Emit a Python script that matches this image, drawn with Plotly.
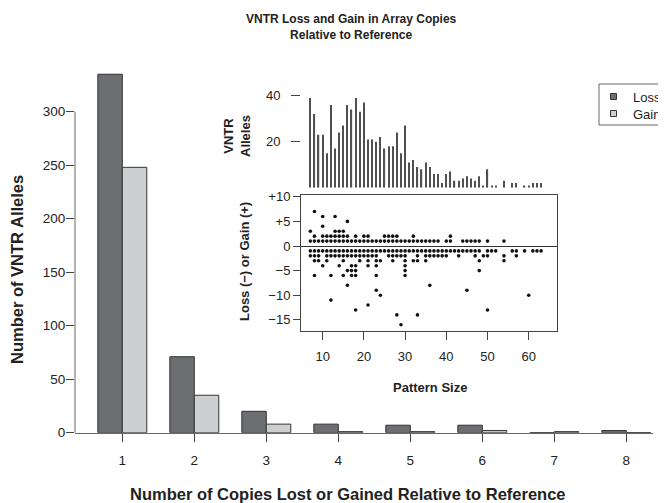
import plotly.graph_objects as go

# The page body keeps a default 8px margin, so the figure is 8px smaller and all
# pixel positions below are given in window coordinates and shifted by 8.
OFF = 8
W, H = 666 - OFF, 503 - OFF
def px(x): return (x - OFF) / W
def py(y): return 1 - (y - OFF) / H

FONT = "Liberation Sans, Arial, Helvetica, sans-serif"
TXT = "#222222"

# ---- main bar chart data ----
copies = [1, 2, 3, 4, 5, 6, 7, 8]
loss_counts = [335, 71, 20, 8, 7, 7, 0, 2]
gain_counts = [248, 35, 8, 1, 1, 2, 1, 0]
main_yticks = [0, 50, 100, 150, 200, 250, 300]
legend_labels = ["Loss", "Gain"]

# ---- inset histogram: VNTR alleles per pattern size ----
hist_sizes = [7, 8, 9, 10, 11, 12, 13, 14, 15, 16, 17, 18, 19, 20, 21, 22, 23, 24, 25,
              26, 27, 28, 29, 30, 31, 32, 33, 34, 35, 36, 37, 38, 39, 40, 41, 42, 43,
              44, 45, 46, 47, 48, 49, 50, 51, 52, 54, 56, 57, 59, 60, 61, 62, 63]
hist_counts = [39, 32, 23, 23, 15, 36, 17, 24, 27, 36, 34, 39, 33, 37, 21, 21, 20, 22, 17,
               18, 18, 24, 15, 27, 11, 12, 9, 8, 11, 9, 6, 6, 2, 6, 7, 3, 3,
               4, 5, 4, 3, 5, 1, 8, 1, 1, 3, 2, 2, 1, 1, 2, 2, 2]

# ---- inset scatter: pattern sizes observed at each copy change ----
sizes_plus7 = [8]
sizes_plus6 = [10, 13]
sizes_plus5 = [16]
sizes_plus4 = [10]
sizes_plus3 = [7, 13, 14, 15]
sizes_plus2 = [8, 10, 11, 12, 13, 14, 15, 16, 18, 20, 21, 25, 26, 27, 28, 32, 41]
sizes_plus1 = [7, 8, 9, 10, 11, 12, 13, 14, 15, 16, 17, 18, 19, 20, 21, 22, 23, 24, 25,
               26, 27, 28, 29, 30, 31, 32, 33, 34, 35, 36, 37, 38, 40, 41, 44, 45, 46,
               47, 48, 50, 54]
sizes_minus1 = [7, 8, 9, 10, 11, 12, 13, 14, 15, 16, 17, 18, 19, 20, 21, 22, 23, 24, 25,
                26, 27, 28, 29, 30, 31, 32, 33, 34, 35, 36, 37, 38, 39, 40, 41, 42, 43,
                44, 45, 46, 47, 48, 50, 51, 52, 56, 57, 59, 61, 62, 63]
sizes_minus2 = [7, 8, 9, 11, 12, 13, 14, 15, 16, 17, 18, 19, 20, 21, 22, 23, 26, 27, 28,
                29, 30, 33, 35, 36, 37, 38, 39, 40, 43, 47, 49, 50, 54, 57]
sizes_minus3 = [8, 9, 11, 15, 19, 21, 23, 24, 27, 30, 32, 33, 35, 48, 54]
sizes_minus4 = [10, 14, 17, 18, 21, 23, 30]
sizes_minus5 = [16, 17, 18, 30, 48]
sizes_minus6 = [8, 12, 15, 17, 18, 23, 30]
sizes_minus8 = [16, 36]
sizes_minus9 = [23, 45]
sizes_minus10 = [24, 60]
sizes_minus11 = [12]
sizes_minus12 = [21]
sizes_minus13 = [18, 50]
sizes_minus14 = [28, 33]
sizes_minus16 = [29]

rows = [(7, sizes_plus7), (6, sizes_plus6), (5, sizes_plus5), (4, sizes_plus4),
        (3, sizes_plus3), (2, sizes_plus2), (1, sizes_plus1), (-1, sizes_minus1),
        (-2, sizes_minus2), (-3, sizes_minus3), (-4, sizes_minus4), (-5, sizes_minus5),
        (-6, sizes_minus6), (-8, sizes_minus8), (-9, sizes_minus9), (-10, sizes_minus10),
        (-11, sizes_minus11), (-12, sizes_minus12), (-13, sizes_minus13),
        (-14, sizes_minus14), (-16, sizes_minus16)]
sc_x, sc_y = [], []
for change, sizes in rows:
    for s in sizes:
        sc_x.append(s)
        sc_y.append(change)

inset_xticks = [10, 20, 30, 40, 50, 60]
inset_yticks = [-15, -10, -5, 0, 5, 10]
inset_yticktext = ["\u221215", "\u221210", "\u22125", "0", "+5", "+10"]

LOSS_COL = "#6d6e72"
GAIN_COL = "#cdcecf"
EDGE = "#333333"
TICKFS = 13

fig = go.Figure()
fig.add_trace(go.Bar(x=copies, y=loss_counts, name="Loss", marker=dict(color=LOSS_COL, line=dict(color=EDGE, width=1)),
                     xaxis="x", yaxis="y", showlegend=False, cliponaxis=False))
fig.add_trace(go.Bar(x=copies, y=gain_counts, name="Gain", marker=dict(color=GAIN_COL, line=dict(color=EDGE, width=1)),
                     xaxis="x", yaxis="y", showlegend=False, cliponaxis=False))
fig.add_trace(go.Bar(x=hist_sizes, y=hist_counts, width=0.3, marker=dict(color="#505050", line=dict(width=0)),
                     xaxis="x2", yaxis="y2", showlegend=False))
fig.add_trace(go.Scatter(x=sc_x, y=sc_y, mode="markers", marker=dict(color="#111111", size=3.6),
                         xaxis="x3", yaxis="y3", showlegend=False, cliponaxis=True))

# geometry (window pixels)
MX0, MX1 = 75, 653
M0PX, MPPU = 432.7, 1.07           # y pixel of 0, pixels per unit
CAT1, CATW = 122.3, 72.0
main_xr = [1 - (CAT1 - MX0) / CATW, 1 + (MX1 - CAT1) / CATW]
main_ytop = 340
IX0, IX1 = 301, 557
P10, PPU = 322.7, 4.12
inset_xr = [10 - (P10 - IX0) / PPU, 10 + (IX1 - P10) / PPU]
SC_TOP, SC_BOT, SC0, SCPU = 195, 330.7, 246, 4.92
sc_yr = [-(SC_BOT - SC0) / SCPU, (SC0 - SC_TOP) / SCPU]
H_BOT, H_TOP = 187.7, 95.7

def axc(size=TICKFS, **kw):
    d = dict(showgrid=False, zeroline=False, tickfont=dict(family=FONT, size=size, color=TXT),
             tickcolor="#444", ticks="outside")
    d.update(kw)
    return d

fig.update_layout(
    width=W, height=H, margin=dict(l=0, r=0, t=0, b=0, autoexpand=False),
    paper_bgcolor="white", plot_bgcolor="rgba(0,0,0,0)",
    barmode="group", bargap=0.32, bargroupgap=0, showlegend=False,
    font=dict(family=FONT, color=TXT, size=12),
    xaxis=axc(size=13.5, domain=[px(MX0), px(MX1)], range=main_xr, tickvals=copies, ticklen=8,
              showline=True, linecolor="#666", linewidth=1, anchor="y", ticklabelstandoff=7),
    yaxis=axc(size=13.5, domain=[py(M0PX), py(M0PX - main_ytop * MPPU)], range=[0, main_ytop],
              tickvals=main_yticks, ticklen=8, showline=False, anchor="x", ticklabelstandoff=-2),
    xaxis2=dict(domain=[px(IX0), px(IX1)], range=inset_xr, visible=False, anchor="y2"),
    yaxis2=axc(domain=[py(H_BOT), py(H_TOP)], range=[0, 40], tickvals=[20, 40], ticklen=9,
               showline=False, anchor="x2", ticklabelstandoff=8),
    xaxis3=axc(domain=[px(IX0), px(IX1)], range=inset_xr, tickvals=inset_xticks, ticklen=8,
               showline=True, mirror=True, linecolor="#444", linewidth=1, anchor="y3", ticklabelstandoff=6),
    yaxis3=axc(domain=[py(SC_BOT), py(SC_TOP)], range=sc_yr, tickvals=inset_yticks, ticktext=inset_yticktext,
               ticklen=7, showline=True, mirror=True, linecolor="#444", linewidth=1, anchor="x3",
               zeroline=True, zerolinecolor="#333", zerolinewidth=1),
)

# main y axis line from 0 to 300 (R style)
fig.add_shape(type="line", xref="paper", yref="y", x0=px(MX0), x1=px(MX0), y0=0, y1=300,
              line=dict(color="#666", width=1))

# legend (box runs off the right edge, as in the reference)
fig.add_shape(type="rect", xref="paper", yref="paper", x0=px(599), x1=px(700), y0=py(125), y1=py(84),
              line=dict(color="#666", width=1), fillcolor="white")
for i, (lab, col) in enumerate(zip(legend_labels, [LOSS_COL, GAIN_COL])):
    cy = 96.5 + i * 17
    fig.add_shape(type="rect", xref="paper", yref="paper", x0=px(610.5), x1=px(616.5),
                  y0=py(cy + 3), y1=py(cy - 3), line=dict(color=EDGE, width=1), fillcolor=col)
    fig.add_annotation(text=lab, x=px(631), y=py(cy + 1), xref="paper", yref="paper", showarrow=False,
                       xanchor="left", yanchor="middle", font=dict(family=FONT, size=13, color=TXT))

def ann(text, x, y, size=12, angle=0, bold=True):
    fig.add_annotation(text=f"<b>{text}</b>" if bold else text, x=px(x), y=py(y), xref="paper", yref="paper",
                       showarrow=False, xanchor="center", yanchor="middle", textangle=angle,
                       font=dict(family=FONT, size=size, color=TXT))

ann("VNTR Loss and Gain in Array Copies<br>Relative to Reference", 351, 27, size=12)
ann("Number of Copies Lost or Gained Relative to Reference", 348, 494, size=16.5)
ann("Number of VNTR Alleles", 17, 270, size=16.5, angle=-90)
ann("Pattern Size", 430, 387, size=13)
ann("VNTR<br>Alleles", 237, 136, size=13, angle=-90)
ann("Loss (\u2212) or Gain (+)", 244, 262, size=13, angle=-90)

fig.write_html("out.html")
